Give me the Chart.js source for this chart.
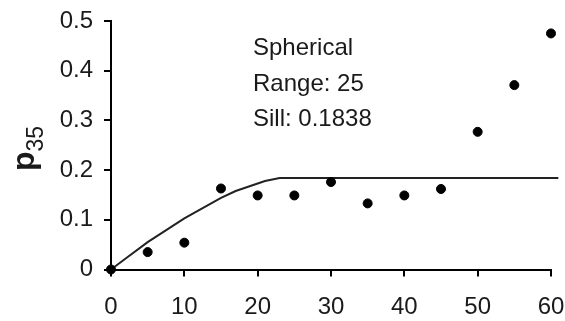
<!DOCTYPE html>
<html>
<head>
<meta charset="utf-8">
<script src="https://cdn.jsdelivr.net/npm/chart.js@4/dist/chart.umd.min.js"></script>
<style>
  html, body { margin: 0; padding: 0; background: #fff; }
  #wrap { width: 565px; height: 321px; position: relative; }
</style>
</head>
<body>
<div id="wrap"><canvas id="vario"></canvas></div>
<script>
  // observed values (lag distance -> p35)
  var lags = [0, 5, 10, 15, 20, 25, 30, 35, 40, 45, 50, 55, 60];
  var p35 = [0, 0.035, 0.054, 0.163, 0.149, 0.149, 0.176, 0.133, 0.149, 0.162, 0.277, 0.371, 0.475];

  // fitted spherical model
  var modelLags = [0, 2, 5, 10, 15, 17, 21, 23, 61];
  var modelVals = [0, 0.022, 0.055, 0.103, 0.144, 0.158, 0.178, 0.184, 0.184];

  var xTickLabels = ['0', '10', '20', '30', '40', '50', '60'];
  var yTickLabels = ['0', '0.1', '0.2', '0.3', '0.4', '0.5'];
  var notes = ['Spherical', 'Range: 25', 'Sill: 0.1838'];

  var FONT = '"Liberation Sans", Arial, Helvetica, sans-serif';

  function toXY(xs, ys) {
    return xs.map(function (x, i) { return { x: x, y: ys[i] }; });
  }

  // text in the plot + the rotated p35 axis title
  var textPlugin = {
    id: 'textPlugin',
    afterDraw: function (chart) {
      var ctx = chart.ctx;
      ctx.save();
      ctx.fillStyle = '#1a1a1a';
      ctx.font = '24px ' + FONT;
      ctx.textAlign = 'left';
      ctx.textBaseline = 'alphabetic';
      var baselines = [55, 91, 126];
      notes.forEach(function (t, i) { ctx.fillText(t, 253, baselines[i]); });
      ctx.restore();

      ctx.save();
      ctx.translate(34, 171);
      ctx.rotate(-Math.PI / 2);
      ctx.fillStyle = '#1a1a1a';
      ctx.textAlign = 'left';
      ctx.textBaseline = 'alphabetic';
      ctx.font = 'bold 32px ' + FONT;
      ctx.fillText('p', 0, 0);
      var w = ctx.measureText('p').width;
      ctx.font = '23px ' + FONT;
      ctx.fillText('35', w, 9);
      ctx.restore();
    }
  };

  new Chart(document.getElementById('vario'), {
    type: 'scatter',
    data: {
      datasets: [{
        label: 'observed',
        data: toXY(lags, p35),
        backgroundColor: '#000',
        borderColor: '#000',
        pointRadius: 4.5,
        pointHoverRadius: 4.5,
        clip: false,
        order: 0
      }, {
        label: 'model',
        type: 'line',
        data: toXY(modelLags, modelVals),
        borderColor: '#222',
        borderWidth: 2,
        pointRadius: 0,
        fill: false,
        tension: 0,
        clip: false,
        order: 1
      }]
    },
    options: {
      responsive: true,
      maintainAspectRatio: false,
      animation: false,
      devicePixelRatio: 1,
      layout: { padding: { top: 21, right: 14, left: 0, bottom: 0 } },
      plugins: {
        legend: { display: false },
        tooltip: { enabled: false }
      },
      scales: {
        x: {
          type: 'linear',
          min: 0,
          max: 60,
          afterFit: function (s) { s.height = 51.5; s.paddingLeft = 0; s.paddingRight = 0; },
          border: { display: true, color: '#000', width: 2 },
          grid: { drawOnChartArea: false, drawTicks: true, tickLength: 7, color: '#000', lineWidth: 2 },
          ticks: {
            stepSize: 10,
            padding: 16,
            color: '#1a1a1a',
            font: { family: FONT, size: 24 },
            maxRotation: 0,
            callback: function (v, i) { return xTickLabels[i]; }
          }
        },
        y: {
          min: 0,
          max: 0.5,
          afterFit: function (s) { s.width = 111; s.paddingTop = 0; s.paddingBottom = 0; },
          border: { display: true, color: '#000', width: 2 },
          grid: { drawOnChartArea: false, drawTicks: true, tickLength: 7, color: '#000', lineWidth: 2 },
          ticks: {
            stepSize: 0.1,
            padding: 11,
            color: '#1a1a1a',
            font: { family: FONT, size: 24 },
            callback: function (v, i) { return yTickLabels[i]; }
          }
        }
      }
    },
    plugins: [textPlugin]
  });
</script>
</body>
</html>
